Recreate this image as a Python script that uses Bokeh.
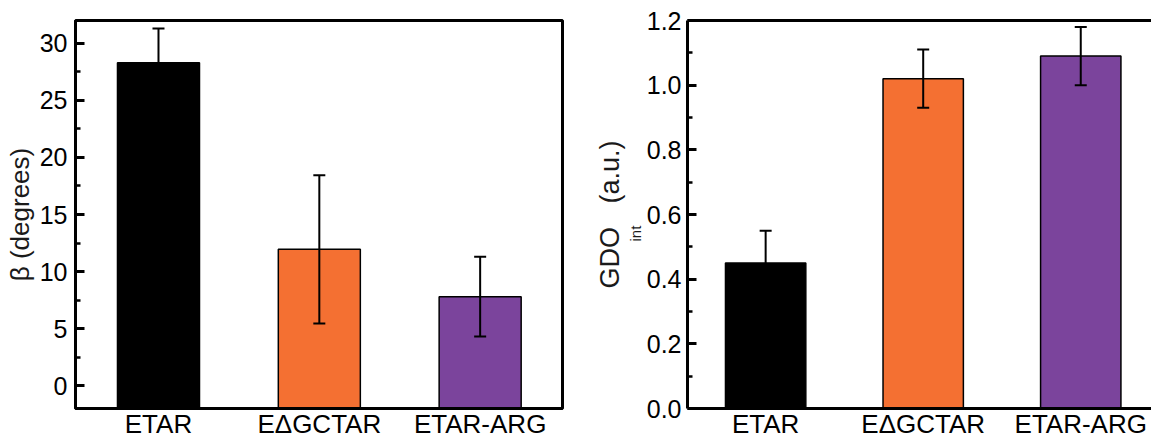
import math
from bokeh.plotting import figure
from bokeh.models import (ColumnDataSource, Range1d, FixedTicker, Whisker, TeeHead,
                          LinearAxis, Title)
from bokeh.layouts import row
from bokeh.embed import file_html
from bokeh.resources import INLINE

# ---------------- data ----------------
categories = ["ETAR", "E\u0394GCTAR", "ETAR-ARG"]
bar_colors = ["#000000", "#F47032", "#7B449C"]
beta_values = [28.3, 11.95, 7.8]
beta_errors = [3.0, 6.5, 3.5]
gdo_values = [0.45, 1.02, 1.09]
gdo_errors = [0.10, 0.09, 0.09]
beta_ticks = [0, 5, 10, 15, 20, 25, 30]
gdo_ticks = [0.0, 0.2, 0.4, 0.6, 0.8, 1.0, 1.2]

FONT = "Liberation Sans"
xpos = list(range(len(categories)))
overrides = {i: c for i, c in enumerate(categories)}


def make_panel(values, errors, yrange, yticks, xrange, width, border_left,
               border_right, fmt_one_decimal, full_outline):
    src = ColumnDataSource(dict(
        x=xpos, top=values, color=bar_colors,
        upper=[v + e for v, e in zip(values, errors)],
        lower=[v - e for v, e in zip(values, errors)],
    ))
    p = figure(width=width, height=441, output_backend="svg", toolbar_location=None,
               x_range=Range1d(*xrange), y_range=Range1d(*yrange),
               min_border_left=border_left, min_border_right=border_right,
               min_border_top=20, min_border_bottom=20)
    p.background_fill_color = "white"
    p.border_fill_color = "white"
    p.grid.visible = False

    p.vbar(x="x", top="top", bottom=yrange[0], width=0.51, source=src,
           fill_color="color", line_color="black", line_width=1.5)

    w = Whisker(source=src, base="x", upper="upper", lower="lower",
                line_width=2, line_color="black", level="overlay",
                upper_head=TeeHead(size=12, line_width=2, line_color="black"),
                lower_head=TeeHead(size=12, line_width=2, line_color="black"))
    p.add_layout(w)

    # x axis (below)
    xa = p.below[0]
    xa.ticker = FixedTicker(ticks=xpos)
    xa.major_label_overrides = overrides
    xa.major_tick_line_color = None
    xa.minor_tick_line_color = None
    xa.major_tick_out = 0
    xa.major_tick_in = 0
    xa.minor_tick_out = 0
    xa.minor_tick_in = 0
    xa.axis_line_width = 3
    xa.axis_line_color = "black"
    xa.major_label_standoff = 0
    xa.major_label_text_font = FONT
    xa.major_label_text_font_size = "26px"
    xa.major_label_text_color = "black"

    # y axis
    ya = p.left[0]
    step = yticks[1] - yticks[0]
    minor = [t + step / 2 for t in yticks]
    minor = [m for m in minor if yrange[0] <= m <= yrange[1]]
    ya.ticker = FixedTicker(ticks=yticks, minor_ticks=minor)
    ya.axis_line_width = 3
    ya.axis_line_color = "black"
    ya.major_tick_in = 9
    ya.major_tick_out = 0
    ya.minor_tick_in = 5
    ya.minor_tick_out = 0
    ya.major_tick_line_width = 3
    ya.minor_tick_line_width = 2.5
    ya.major_tick_line_color = "black"
    ya.minor_tick_line_color = "black"
    ya.major_label_text_font = FONT
    ya.major_label_text_font_size = "25px"
    ya.major_label_text_color = "black"
    if fmt_one_decimal:
        ya.major_label_overrides = {t: f"{t:.1f}" for t in yticks}

    if full_outline:
        p.outline_line_color = "black"
        p.outline_line_width = 3
    else:
        p.outline_line_color = None
        top_axis = LinearAxis(ticker=FixedTicker(ticks=[]), axis_line_width=3,
                              axis_line_color="black",
                              major_tick_line_color=None, minor_tick_line_color=None,
                              major_tick_out=0, minor_tick_out=0,
                              major_label_text_font_size="0px",
                              major_label_standoff=0)
        p.add_layout(top_axis, "above")
    return p


p1 = make_panel(beta_values, beta_errors, (-2, 32), beta_ticks, (-0.516, 2.512),
                width=592, border_left=75, border_right=30,
                fmt_one_decimal=False, full_outline=True)
p1.left[0].major_label_standoff = 8
p1.left[0].axis_label = "\u03b2 (degrees)"
p1.left[0].axis_label_text_font = FONT
p1.left[0].axis_label_text_font_size = "26px"
p1.left[0].axis_label_text_font_style = "normal"
p1.left[0].axis_label_text_color = "#1a1a1a"
p1.left[0].axis_label_standoff = 2

p2 = make_panel(gdo_values, gdo_errors, (0, 1.2), gdo_ticks, (-0.496, 2.449),
                width=559, border_left=84, border_right=0,
                fmt_one_decimal=True, full_outline=False)
p2.left[0].major_label_standoff = 6

# y-axis label with subscript: subscript column next to the axis, main text outside
sub_title = Title(text="int", text_font=FONT, text_font_size="15px",
                  text_font_style="normal", text_color="#1a1a1a",
                  align="left", offset=167, standoff=0)
p2.add_layout(sub_title, "left")
main_title = Title(text="GDO\u2002\u2009\u200a\u200a(a.u.)", text_font=FONT,
                   text_font_size="27px", text_font_style="normal",
                   text_color="#1a1a1a", align="left", offset=120, standoff=0)
p2.add_layout(main_title, "left")

layout = row(p1, p2)
open("out.html", "w").write(file_html(layout, INLINE))
